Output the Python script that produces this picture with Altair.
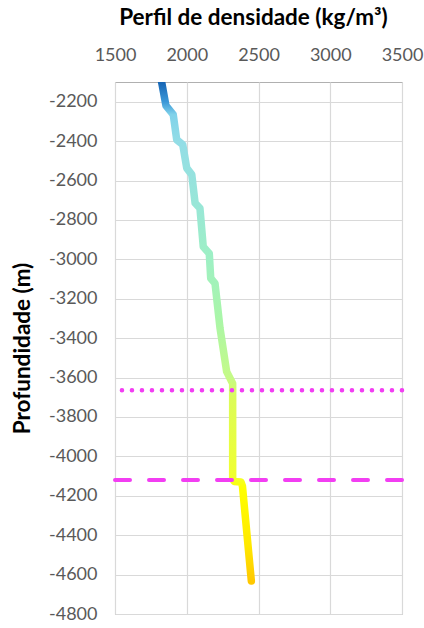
import altair as alt
import pandas as pd

# Density log (kg/m3) against depth (m)
density = [1825, 1855, 1906, 1930, 1972, 2000, 2035, 2058, 2092, 2115, 2157,
           2167, 2197, 2232, 2278, 2320, 2320, 2330, 2378, 2388, 2450]
depth = [-2100, -2220, -2266, -2393, -2418, -2537, -2570, -2714, -2741, -2936,
         -2970, -3096, -3122, -3350, -3570, -3630, -4115, -4127, -4130, -4150,
         -4632]

# Horizontal markers
marker_depths = [-3665, -4120]
marker_styles = ["dotted", "dashed"]

x_ticks = [1500, 2000, 2500, 3000, 3500]
y_ticks = list(range(-4800, -2199, 200))

FONT = "Lato"
MAGENTA = "#f23ef2"

profile = pd.DataFrame({"density": density, "depth": depth,
                        "order": list(range(len(depth)))})

x_scale = alt.Scale(domain=[1500, 3500], nice=False, zero=False)
y_scale = alt.Scale(domain=[-4800, -2100], nice=False, zero=False)

gradient = alt.Gradient(
    gradient="linear",
    x1=0, y1=0, x2=0, y2=1,
    stops=[
        alt.GradientStop(offset=0.0, color="#1664b4"),
        alt.GradientStop(offset=0.04, color="#3b98d8"),
        alt.GradientStop(offset=0.065, color="#80d2ea"),
        alt.GradientStop(offset=0.12, color="#93dde6"),
        alt.GradientStop(offset=0.24, color="#98e6d8"),
        alt.GradientStop(offset=0.355, color="#9ef0c4"),
        alt.GradientStop(offset=0.475, color="#aaf6a8"),
        alt.GradientStop(offset=0.59, color="#c4fa88"),
        alt.GradientStop(offset=0.635, color="#dcfc58"),
        alt.GradientStop(offset=0.79, color="#f0ff30"),
        alt.GradientStop(offset=0.815, color="#ffff00"),
        alt.GradientStop(offset=0.93, color="#ffe800"),
        alt.GradientStop(offset=1.0, color="#ffc800"),
    ],
)

plain = "'' + datum.value"

line = alt.Chart(profile).mark_line(
    stroke=gradient, strokeWidth=7.5, strokeCap="round", strokeJoin="round",
    clip=True,
).encode(
    x=alt.X("density:Q", scale=x_scale,
            axis=alt.Axis(orient="top", values=x_ticks, labelExpr=plain,
                          title="Perfil de densidade (kg/m³)")),
    y=alt.Y("depth:Q", scale=y_scale,
            axis=alt.Axis(values=y_ticks, labelExpr=plain,
                          title="Profundidade (m)")),
    order="order:Q",
)

markers = pd.DataFrame({"depth": marker_depths, "style": marker_styles})

dotted = alt.Chart(markers[markers["style"] == "dotted"]).mark_rule(
    color=MAGENTA, strokeWidth=4.5, strokeCap="round", strokeDash=[0.1, 9.9],
).encode(y=alt.Y("depth:Q", scale=y_scale))

dashed = alt.Chart(markers[markers["style"] == "dashed"]).mark_rule(
    color=MAGENTA, strokeWidth=4, strokeCap="round", strokeDash=[15, 19],
).encode(y=alt.Y("depth:Q", scale=y_scale))

chart = alt.layer(line, dotted, dashed).properties(
    width=287, height=532,
    autosize=alt.AutoSizeParams(type="none"),
    padding={"left": 115, "top": 82, "right": 22, "bottom": 14},
    background="white",
).configure_view(
    stroke="#b0b0b0", strokeWidth=1,
).configure_axis(
    domain=False, ticks=False, labelFlush=False, labelOverlap=False,
    grid=True, gridColor="#d9d9d9", gridWidth=1.2,
    labelFont=FONT, labelFontSize=18, labelColor="#595959",
    titleFont=FONT, titleFontSize=22.5, titleFontWeight="bold", titleColor="#000000",
).configure_axisX(
    labelPadding=18, titlePadding=17, titleX=138, titleAlign="center",
).configure_axisY(
    labelPadding=18, titlePadding=14,
)

chart.save("out.html", embed_options={"renderer": "svg", "actions": False})
